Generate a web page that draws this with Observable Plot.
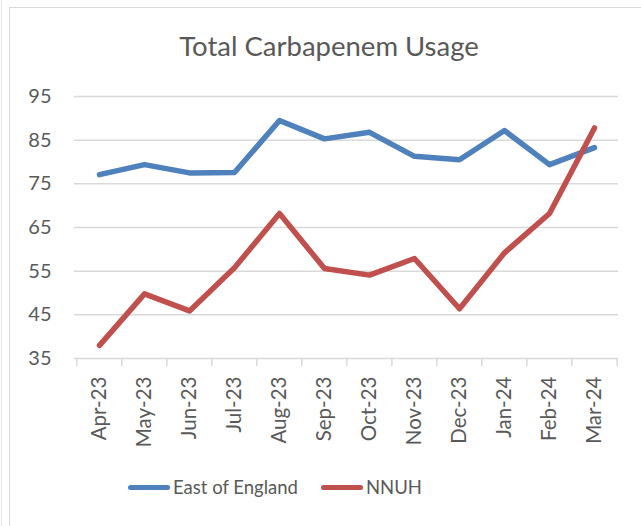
<!DOCTYPE html>
<html>
<head>
<meta charset="utf-8">
<script src="https://cdn.jsdelivr.net/npm/d3@7"></script>
<script src="https://cdn.jsdelivr.net/npm/@observablehq/plot@0.6"></script>
<style>
  html, body { margin: 0; padding: 0; background: #fff; }
  #wrap { position: relative; width: 641px; height: 526px; overflow: hidden; font-family: Lato, "Open Sans", sans-serif; color: #595959; }
  #frame { position: absolute; left: 9px; top: 7px; width: 640px; height: 530px; border-left: 1.5px solid #d9d9d9; border-top: 1.5px solid #d9d9d9; }
  #outer { position: absolute; left: 1px; top: 0; width: 0; height: 526px; border-left: 1.5px solid #e6e6e6; }
  #title { position: absolute; left: 0; width: 658px; top: 28px; text-align: center; font-size: 27.5px; line-height: 36px; }
  #chart { position: absolute; left: 0; top: 70px; }
  #legend { position: absolute; top: 476px; left: 128px; display: flex; align-items: center; font-size: 18.5px; }
  .item { display: flex; align-items: center; margin-right: 23px; }
  .sw { width: 42px; height: 5px; border-radius: 3px; margin-right: 3px; }
</style>
</head>
<body>
<div id="wrap">
  <div id="outer"></div>
  <div id="frame"></div>
  <div id="title">Total Carbapenem Usage</div>
  <div id="chart"></div>
  <div id="legend"></div>
</div>
<script>
const months = ["Apr-23","May-23","Jun-23","Jul-23","Aug-23","Sep-23","Oct-23","Nov-23","Dec-23","Jan-24","Feb-24","Mar-24"];
const eastOfEngland = [77.1, 79.4, 77.5, 77.6, 89.5, 85.3, 86.8, 81.3, 80.5, 87.2, 79.4, 83.3];
const nnuh = [38.0, 49.8, 45.9, 55.8, 68.2, 55.6, 54.1, 57.9, 46.4, 59.2, 68.2, 87.8];
const yTicks = [35, 45, 55, 65, 75, 85, 95];
const seriesNames = ["East of England", "NNUH"];
const seriesColors = ["#4F81BD", "#C0504D"];

const rows = [];
months.forEach((m, i) => {
  rows.push({month: m, value: eastOfEngland[i], series: seriesNames[0]});
  rows.push({month: m, value: nnuh[i], series: seriesNames[1]});
});

const W = 641, H = 390, mL = 74, mR = 23;
const half = (W - mL - mR) / months.length / 2;

const plot = Plot.plot({
  width: W,
  height: H,
  marginLeft: mL,
  marginRight: mR,
  marginTop: 26,
  marginBottom: 102,
  style: {fontFamily: "Lato, 'Open Sans', sans-serif", color: "#595959", background: "transparent"},
  x: {type: "point", domain: months, padding: 0.5, label: null},
  y: {domain: [35, 95], ticks: yTicks, label: null},
  color: {domain: seriesNames, range: seriesColors},
  marks: [
    Plot.ruleY(yTicks.filter(t => t > 35), {y: d => d, stroke: "#d9d9d9", strokeWidth: 1.5}),
    Plot.ruleY([35], {stroke: "#d9d9d9", strokeWidth: 1.5}),
    Plot.ruleX(months, {x: d => d, y1: 35, y2: 35, insetBottom: -8, dx: -half, stroke: "#d9d9d9", strokeWidth: 1.5}),
    Plot.ruleX(months.slice(-1), {x: d => d, y1: 35, y2: 35, insetBottom: -8, dx: half, stroke: "#d9d9d9", strokeWidth: 1.5}),
    Plot.axisY({ticks: yTicks, tickSize: 0, tickPadding: 23, fontSize: 20, label: null}),
    Plot.axisX({tickSize: 0, tickRotate: -90, tickPadding: 18, fontSize: 20.5, label: null}),
    Plot.line(rows, {x: "month", y: "value", z: "series", stroke: "series", strokeWidth: 5.5, strokeLinejoin: "round", strokeLinecap: "round"})
  ]
});
document.getElementById("chart").appendChild(plot);

const legend = document.getElementById("legend");
seriesNames.forEach((n, i) => {
  const it = document.createElement("div");
  it.className = "item";
  const sw = document.createElement("div");
  sw.className = "sw";
  sw.style.background = seriesColors[i];
  const tx = document.createElement("span");
  tx.textContent = n;
  it.appendChild(sw); it.appendChild(tx);
  legend.appendChild(it);
});
</script>
</body>
</html>
